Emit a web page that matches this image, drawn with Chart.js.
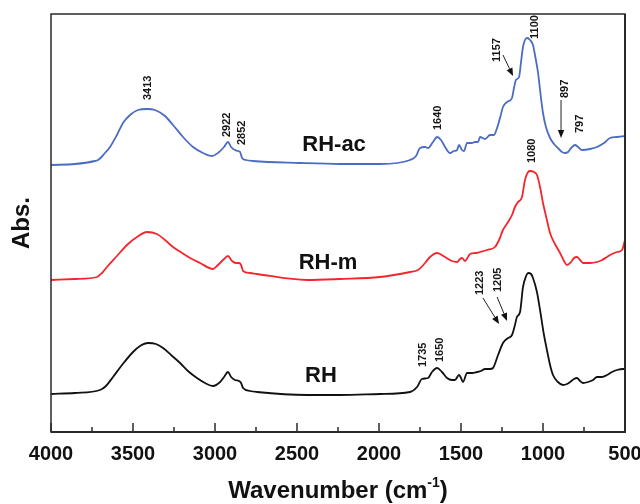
<!DOCTYPE html>
<html><head><meta charset="utf-8">
<script src="https://cdn.jsdelivr.net/npm/chart.js@4.4.1/dist/chart.umd.min.js"></script>
<style>html,body{margin:0;padding:0;background:#fff}</style>
</head><body>
<canvas id="c" width="640" height="504"></canvas>
<script>
// ---- data: [wavenumber (cm-1), absorbance (a.u., stacked)] ----
const rhacSpectrum = [[4000,2.67],[3854,2.68],[3732,2.71],[3713,2.72],[3671,2.79],[3640,2.85],[3598,2.97],[3561,3.09],[3518,3.17],[3470,3.22],[3415,3.23],[3366,3.22],[3305,3.16],[3256,3.07],[3195,2.95],[3134,2.85],[3073,2.79],[3018,2.76],[2982,2.79],[2945,2.85],[2921,2.90],[2902,2.85],[2878,2.82],[2860,2.81],[2847,2.80],[2835,2.74],[2811,2.72],[2768,2.71],[2482,2.69],[2238,2.68],[1994,2.68],[1811,2.72],[1774,2.76],[1750,2.84],[1719,2.85],[1701,2.84],[1671,2.90],[1646,2.95],[1622,2.92],[1597,2.85],[1567,2.79],[1543,2.81],[1524,2.82],[1512,2.87],[1494,2.82],[1482,2.81],[1463,2.89],[1433,2.89],[1415,2.90],[1396,2.90],[1384,2.95],[1353,2.93],[1323,2.97],[1299,2.97],[1280,3.04],[1262,3.14],[1244,3.25],[1219,3.30],[1189,3.34],[1177,3.44],[1165,3.52],[1146,3.55],[1134,3.70],[1122,3.85],[1110,3.92],[1097,3.94],[1079,3.92],[1061,3.87],[1049,3.77],[1030,3.59],[1018,3.42],[1000,3.19],[982,3.05],[957,2.94],[933,2.88],[909,2.84],[884,2.80],[866,2.79],[847,2.80],[823,2.85],[805,2.87],[786,2.85],[762,2.82],[713,2.83],[671,2.85],[628,2.89],[591,2.94],[549,2.95],[500,2.96]];

const rhmSpectrum = [[4000,1.52],[3854,1.53],[3720,1.55],[3689,1.59],[3659,1.65],[3598,1.76],[3537,1.87],[3476,1.95],[3415,2.00],[3354,1.98],[3305,1.92],[3256,1.85],[3201,1.79],[3152,1.74],[3091,1.69],[3012,1.63],[2982,1.67],[2951,1.72],[2921,1.76],[2896,1.71],[2872,1.69],[2854,1.69],[2841,1.67],[2829,1.61],[2786,1.59],[2744,1.58],[2439,1.52],[2238,1.53],[1994,1.55],[1811,1.60],[1762,1.62],[1719,1.69],[1689,1.75],[1646,1.79],[1597,1.75],[1555,1.71],[1524,1.70],[1506,1.73],[1494,1.74],[1475,1.71],[1445,1.78],[1408,1.79],[1384,1.80],[1341,1.82],[1293,1.85],[1268,1.92],[1244,2.02],[1213,2.10],[1189,2.17],[1171,2.25],[1152,2.30],[1128,2.35],[1110,2.52],[1091,2.60],[1079,2.61],[1055,2.60],[1037,2.57],[1018,2.45],[1000,2.29],[976,2.12],[957,1.99],[927,1.88],[896,1.79],[872,1.71],[854,1.67],[829,1.70],[811,1.74],[793,1.75],[774,1.72],[756,1.69],[713,1.69],[671,1.70],[640,1.72],[610,1.75],[579,1.78],[549,1.80],[518,1.82],[500,1.92]];

const rhSpectrum = [[4000,0.38],[3854,0.39],[3701,0.42],[3665,0.46],[3622,0.55],[3567,0.67],[3500,0.80],[3457,0.86],[3409,0.89],[3360,0.88],[3317,0.84],[3268,0.77],[3213,0.69],[3165,0.61],[3110,0.54],[3061,0.49],[3012,0.46],[2969,0.50],[2945,0.55],[2921,0.60],[2902,0.55],[2878,0.52],[2854,0.51],[2841,0.49],[2829,0.44],[2786,0.41],[2744,0.40],[2439,0.37],[2238,0.37],[1994,0.38],[1811,0.40],[1768,0.45],[1738,0.53],[1701,0.54],[1677,0.60],[1646,0.64],[1616,0.60],[1585,0.54],[1555,0.52],[1537,0.52],[1512,0.57],[1500,0.54],[1488,0.50],[1463,0.59],[1433,0.59],[1402,0.60],[1378,0.61],[1353,0.63],[1323,0.63],[1305,0.64],[1274,0.77],[1244,0.89],[1213,0.94],[1189,0.97],[1171,1.07],[1159,1.15],[1140,1.20],[1122,1.45],[1103,1.56],[1091,1.59],[1073,1.58],[1061,1.54],[1037,1.40],[1018,1.22],[994,0.97],[976,0.82],[957,0.67],[939,0.57],[909,0.50],[878,0.47],[854,0.48],[835,0.50],[811,0.53],[793,0.54],[774,0.51],[756,0.49],[725,0.50],[695,0.52],[671,0.55],[640,0.55],[610,0.57],[579,0.60],[549,0.62],[512,0.63],[500,0.63]];

const seriesNames = ["RH-ac", "RH-m", "RH"];
const xTickValues = [4000, 3500, 3000, 2500, 2000, 1500, 1000, 500];

// peak annotations: text, wavenumber, absorbance level where the vertical text starts
const peakText = ["3413","2922","2852","1640","1157","1100","897","797","1080","1735","1650","1223","1205"];
const peakWn   = [3408, 2927, 2835, 1640, 1280, 1049, 866, 774, 1067, 1732, 1628, 1384, 1274];
const peakAbs  = [3.32, 2.95, 2.87, 3.02, 3.70, 3.93, 3.34, 2.99, 2.69, 0.65, 0.70, 1.37, 1.40];

// arrows: from (wn, abs) to (wn, abs)
const arrowFromWn  = [1244, 890, 1366, 1280];
const arrowFromAbs = [3.77, 3.32, 1.34, 1.35];
const arrowToWn    = [1183, 890, 1268, 1219];
const arrowToAbs   = [3.56, 2.94, 1.08, 1.11];

// series name positions (wn, abs of text centre)
const nameWn  = [2274, 2311, 2354];
const nameAbs = [2.87, 1.69, 0.56];

const FONT = '"Liberation Sans", Arial, Helvetica, sans-serif';
const colors = ['#4a6cc2', '#f4262c', '#111111'];

const toXY = arr => arr.map(p => ({x: p[0], y: p[1]}));

const annotPlugin = {
  id: 'annot',
  afterDraw(chart) {
    const {ctx, chartArea: a, scales: {x, y}} = chart;
    ctx.save();
    // frame
    ctx.strokeStyle = '#2a2a2a';
    ctx.lineWidth = 1.5;
    ctx.strokeRect(a.left, a.top, a.right - a.left, a.bottom - a.top);
    ctx.lineWidth = 2;
    ctx.beginPath();
    ctx.moveTo(a.left, a.bottom); ctx.lineTo(a.right, a.bottom); ctx.lineTo(a.right, a.top);
    ctx.stroke();
    // inward ticks
    ctx.lineWidth = 1.5;
    for (let v = 500; v <= 4000; v += 250) {
      const px = x.getPixelForValue(v);
      const len = (v % 500 === 0) ? 9 : 5;
      ctx.beginPath(); ctx.moveTo(px, a.bottom); ctx.lineTo(px, a.bottom - len); ctx.stroke();
    }
    // peak labels
    ctx.fillStyle = '#151515';
    ctx.font = 'bold 11px ' + FONT;
    peakText.forEach((t, i) => {
      const px = x.getPixelForValue(peakWn[i]);
      const py = y.getPixelForValue(peakAbs[i]);
      ctx.save();
      ctx.translate(px, py);
      ctx.rotate(-Math.PI / 2);
      ctx.textAlign = 'left';
      ctx.textBaseline = 'middle';
      ctx.fillText(t, 0, 0);
      ctx.restore();
    });
    // arrows
    ctx.strokeStyle = '#222'; ctx.fillStyle = '#111'; ctx.lineWidth = 1;
    arrowFromWn.forEach((w, i) => {
      const x0 = x.getPixelForValue(w), y0 = y.getPixelForValue(arrowFromAbs[i]);
      const x1 = x.getPixelForValue(arrowToWn[i]), y1 = y.getPixelForValue(arrowToAbs[i]);
      const ang = Math.atan2(y1 - y0, x1 - x0);
      const hl = 8, hw = 3.2;
      const bx = x1 - hl * Math.cos(ang), by = y1 - hl * Math.sin(ang);
      ctx.beginPath(); ctx.moveTo(x0, y0); ctx.lineTo(bx, by); ctx.stroke();
      ctx.beginPath();
      ctx.moveTo(x1, y1);
      ctx.lineTo(bx + hw * Math.sin(ang), by - hw * Math.cos(ang));
      ctx.lineTo(bx - hw * Math.sin(ang), by + hw * Math.cos(ang));
      ctx.closePath(); ctx.fill();
    });
    // series names
    ctx.fillStyle = '#111';
    ctx.font = 'bold 22px ' + FONT;
    ctx.textAlign = 'center'; ctx.textBaseline = 'middle';
    seriesNames.forEach((n, i) => {
      ctx.fillText(n, x.getPixelForValue(nameWn[i]), y.getPixelForValue(nameAbs[i]));
    });
    // x-axis title with superscript
    const main = 'Wavenumber (cm', sup = '-1', close = ')';
    ctx.font = 'bold 24px ' + FONT;
    const w1 = ctx.measureText(main).width, w3 = ctx.measureText(close).width;
    ctx.font = 'bold 14px ' + FONT;
    const w2 = ctx.measureText(sup).width;
    const total = w1 + w2 + w3;
    let sx = (a.left + a.right) / 2 - total / 2;
    const base = 498;
    ctx.textAlign = 'left'; ctx.textBaseline = 'alphabetic';
    ctx.font = 'bold 24px ' + FONT;
    ctx.fillText(main, sx, base);
    ctx.font = 'bold 14px ' + FONT;
    ctx.fillText(sup, sx + w1, base - 11);
    ctx.font = 'bold 24px ' + FONT;
    ctx.fillText(close, sx + w1 + w2, base);
    ctx.restore();
  }
};

new Chart(document.getElementById('c'), {
  type: 'line',
  data: {
    datasets: [rhacSpectrum, rhmSpectrum, rhSpectrum].map((s, i) => ({
      label: seriesNames[i],
      data: toXY(s),
      borderColor: colors[i],
      borderWidth: 1.8,
      pointRadius: 0,
      fill: false,
      cubicInterpolationMode: 'monotone'
    }))
  },
  options: {
    responsive: false,
    animation: false,
    devicePixelRatio: 1,
    layout: { padding: { left: 0, right: 15, top: 14, bottom: 0 } },
    plugins: { legend: { display: false }, tooltip: { enabled: false } },
    scales: {
      x: {
        type: 'linear', min: 500, max: 4000, reverse: true,
        grid: { display: false, drawTicks: false },
        border: { display: false },
        afterBuildTicks: s => { s.ticks = xTickValues.map(v => ({ value: v })); },
        afterFit: s => { s.height = 72; s.paddingLeft = 0; s.paddingRight = 0; },
        ticks: {
          autoSkip: false, maxRotation: 0, padding: 10,
          color: '#111',
          font: { family: FONT, size: 20, weight: 'bold' },
          callback: v => String(v)
        },
        title: { display: false }
      },
      y: {
        min: 0, max: 4.18,
        grid: { display: false, drawTicks: false },
        border: { display: false },
        ticks: { display: false },
        afterFit: s => { s.width = 51; s.paddingTop = 0; s.paddingBottom = 0; },
        title: {
          display: true, text: 'Abs.', color: '#111',
          font: { family: FONT, size: 24, weight: 'bold' },
          padding: { top: 8, bottom: 0 }
        }
      }
    }
  },
  plugins: [annotPlugin]
});
</script>
</body></html>
